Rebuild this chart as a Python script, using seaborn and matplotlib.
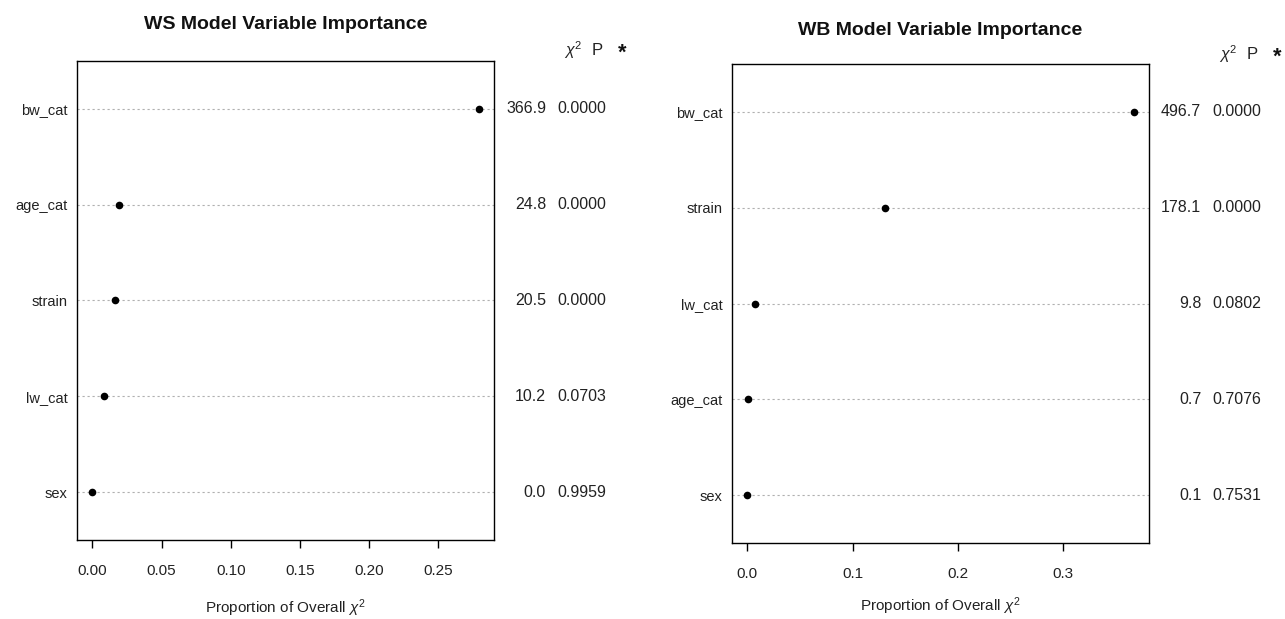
import numpy as np
import pandas as pd
import matplotlib
matplotlib.use("Agg")
import matplotlib.pyplot as plt
import matplotlib.transforms as mtransforms
from matplotlib.ticker import FixedLocator, FormatStrFormatter
import seaborn as sns

# ---- data ----
ws_vars = ["bw_cat", "age_cat", "strain", "lw_cat", "sex"]
ws_prop = [0.279, 0.019, 0.016, 0.008, 0.000]
ws_chi2 = ["366.9", "24.8", "20.5", "10.2", "0.0"]
ws_p = ["0.0000", "0.0000", "0.0000", "0.0703", "0.9959"]
ws_ticks = [0.00, 0.05, 0.10, 0.15, 0.20, 0.25]

wb_vars = ["bw_cat", "strain", "lw_cat", "age_cat", "sex"]
wb_prop = [0.367, 0.131, 0.007, 0.0005, 0.0001]
wb_chi2 = ["496.7", "178.1", "9.8", "0.7", "0.1"]
wb_p = ["0.0000", "0.0000", "0.0802", "0.7076", "0.7531"]
wb_ticks = [0.0, 0.1, 0.2, 0.3]

sns.set_theme(style="white")
plt.rcParams["font.family"] = ["Liberation Sans", "DejaVu Sans"]
plt.rcParams["mathtext.fontset"] = "custom"
plt.rcParams["mathtext.rm"] = "Liberation Sans"
plt.rcParams["mathtext.it"] = "Liberation Sans:italic"
plt.rcParams["mathtext.bf"] = "Liberation Sans:bold"

W, H = 1285, 619
fig = plt.figure(figsize=(W / 100, H / 100), dpi=100)
fig.patch.set_facecolor("white")

FS_Y = 10.5
FS_TICK = 11
FS_NUM = 11.5
FS_XLAB = 11
TXT = "#222222"


def panel(rect, title, vars_, prop, chi2, pvals, ticks, fmt, title_pad, hdr_y, xlabpad):
    ax = fig.add_axes(rect)
    df = pd.DataFrame({"var": vars_, "prop": prop})
    sns.stripplot(data=df, x="prop", y="var", order=vars_, jitter=False,
                  color="black", size=5.5, linewidth=0, ax=ax, zorder=3)
    lo, hi = min(prop), max(prop)
    rng = hi - lo
    ax.set_xlim(lo - 0.04 * rng, hi + 0.04 * rng)
    ax.set_ylim(len(vars_) - 0.5, -0.5)
    ax.xaxis.set_major_locator(FixedLocator(ticks))
    ax.xaxis.set_major_formatter(FormatStrFormatter(fmt))
    ax.grid(axis="y", color="#b0b0b0", linestyle=(0, (2, 2.5)), linewidth=0.8, zorder=1)
    ax.grid(axis="x", visible=False)
    for s in ax.spines.values():
        s.set_visible(True)
        s.set_color("black")
        s.set_linewidth(1.0)
    ax.tick_params(axis="x", which="major", direction="out", length=6, width=1,
                   color="black", pad=11, labelsize=FS_TICK, labelcolor=TXT, bottom=True)
    ax.tick_params(axis="y", length=0, pad=7, labelsize=FS_Y, labelcolor=TXT)
    ax.set_ylabel("")
    ax.set_xlabel(r"Proportion of Overall $\chi^2$", fontsize=FS_XLAB, color=TXT,
                  labelpad=xlabpad)
    ax.set_title(title, fontsize=14, fontweight="bold", pad=title_pad, color="#111111")

    trans = mtransforms.blended_transform_factory(ax.transAxes, ax.transData)
    for i, (c, p) in enumerate(zip(chi2, pvals)):
        ax.text(1.125, i, c, transform=trans, ha="right", va="center",
                fontsize=FS_NUM, color=TXT)
        ax.text(1.269, i, p, transform=trans, ha="right", va="center",
                fontsize=FS_NUM, color=TXT)
    ax.text(1.19, hdr_y, r"$\chi^2$", transform=ax.transAxes, ha="center", va="center",
            fontsize=FS_NUM, color=TXT)
    ax.text(1.248, hdr_y, "P", transform=ax.transAxes, ha="center", va="center",
            fontsize=FS_NUM + 0.5, color=TXT)
    ax.text(1.308, hdr_y - 0.005, "*", transform=ax.transAxes, ha="center", va="center",
            fontsize=FS_NUM + 4, fontweight="bold", color="#111111")
    return ax


panel([77 / W, 1 - 540 / H, 417 / W, 479 / H], "WS Model Variable Importance",
      ws_vars, ws_prop, ws_chi2, ws_p, ws_ticks, "%.2f", 23, 1.022, 14)
panel([732 / W, 1 - 543 / H, 417 / W, 479 / H], "WB Model Variable Importance",
      wb_vars, wb_prop, wb_chi2, wb_p, wb_ticks, "%.1f", 21, 1.02, 11)

fig.savefig("out.png", dpi=100, facecolor="white")
